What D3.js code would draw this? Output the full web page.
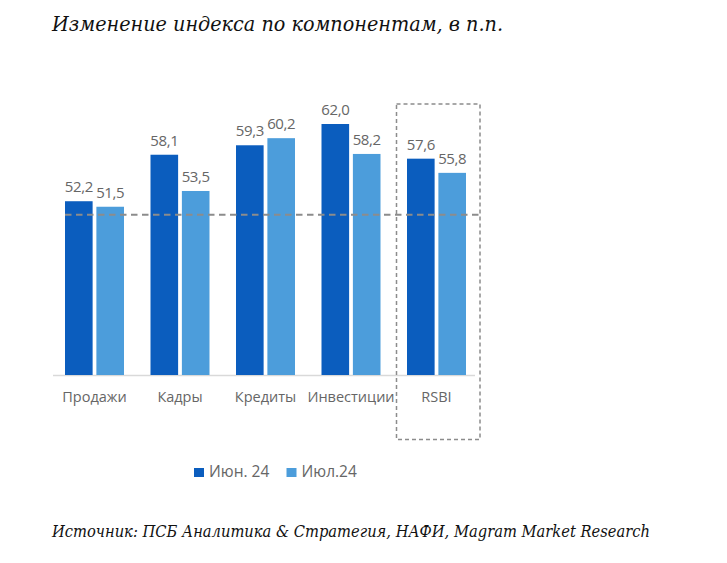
<!DOCTYPE html>
<html>
<head>
<meta charset="utf-8">
<script src="https://cdn.jsdelivr.net/npm/d3@7"></script>
<style>
  html, body { margin: 0; padding: 0; background: #fff; }
  svg { display: block; }
</style>
</head>
<body>
<svg id="chart" width="727" height="563"></svg>
<script>
const categories = ["Продажи", "Кадры", "Кредиты", "Инвестиции", "RSBI"];
const seriesNames = ["Июн. 24", "Июл.24"];
const june = [52.2, 58.1, 59.3, 62.0, 57.6];
const july = [51.5, 53.5, 60.2, 58.2, 55.8];
const threshold = 50.5;
const titleText = "Изменение индекса по компонентам, в п.п.";
const sourceText = "Источник: ПСБ Аналитика & Стратегия, НАФИ, Magram Market Research";

const colors = ["#0b5dbe", "#4c9ddb"];
const fmt = v => v.toFixed(1).replace(".", ",");

const svg = d3.select("#chart");

const x = d3.scaleBand().domain(categories).range([52, 479.5]).paddingInner(0).paddingOuter(0);
const x1 = d3.scaleBand().domain(seriesNames).range([0, 59]).paddingInner(0.12);
const y = d3.scaleLinear().domain([30.15, 62]).range([375, 124]);

const data = categories.map((c, i) => ({ cat: c, vals: [june[i], july[i]] }));

// title
svg.append("text").attr("x", 52).attr("y", 31)
  .attr("font-family", "'DejaVu Serif Condensed', 'DejaVu Serif'").attr("font-style", "italic")
  .attr("font-size", 21).attr("fill", "#111")
  .attr("textLength", 451).attr("lengthAdjust", "spacingAndGlyphs")
  .text(titleText);

// axis baseline
svg.append("line").attr("x1", 53).attr("x2", 475).attr("y1", y(30.15) + 0.5).attr("y2", y(30.15) + 0.5)
  .attr("stroke", "#d9d9d9").attr("stroke-width", 1.5);

const offset = 13;
const groups = svg.append("g").selectAll("g").data(data).join("g")
  .attr("transform", d => `translate(${x(d.cat) + offset},0)`);

groups.selectAll("rect").data(d => d.vals.map((v, j) => ({ v, s: seriesNames[j], j })))
  .join("rect")
  .attr("x", d => x1(d.s)).attr("width", x1.bandwidth())
  .attr("y", d => y(d.v)).attr("height", d => y(30.15) - y(d.v))
  .attr("fill", d => colors[d.j]);

groups.selectAll("text.val").data(d => d.vals.map((v, j) => ({ v, s: seriesNames[j], j })))
  .join("text").attr("class", "val")
  .attr("x", d => x1(d.s) + x1.bandwidth() / 2).attr("y", d => y(d.v) - 9)
  .attr("text-anchor", "middle")
  .attr("font-family", "Open Sans").attr("font-size", 15).attr("letter-spacing", -0.4).attr("fill", "#666")
  .text(d => fmt(d.v));

// dashed reference line
svg.append("line").attr("x1", 65).attr("x2", 480).attr("y1", y(threshold)).attr("y2", y(threshold))
  .attr("stroke", "#8c8c8c").attr("stroke-width", 2).attr("stroke-dasharray", "6.5,4.5");

// category labels
svg.append("g").selectAll("text").data(categories).join("text")
  .attr("x", d => x(d) + offset + 29.5).attr("y", 401.5)
  .attr("text-anchor", "middle")
  .attr("font-family", "Open Sans").attr("font-size", 14.5).attr("fill", "#666")
  .text(d => d);

// dashed box around RSBI
svg.append("rect").attr("x", 396.5).attr("y", 104).attr("width", 83.5).attr("height", 335.5)
  .attr("fill", "none").attr("stroke", "#8c8c8c").attr("stroke-width", 1.5).attr("stroke-dasharray", "4,3");

// legend
const leg = svg.append("g");
const legX = [194, 286.5];
seriesNames.forEach((s, i) => {
  leg.append("rect").attr("x", legX[i]).attr("y", 468).attr("width", 10).attr("height", 9).attr("fill", colors[i]);
  leg.append("text").attr("x", legX[i] + 15).attr("y", 477)
    .attr("font-family", "Open Sans").attr("font-size", 15.5).attr("fill", "#666").text(s);
});

// source
svg.append("text").attr("x", 52).attr("y", 537)
  .attr("font-family", "'DejaVu Serif Condensed', 'DejaVu Serif'").attr("font-style", "italic")
  .attr("font-size", 16).attr("fill", "#111")
  .attr("textLength", 598).attr("lengthAdjust", "spacingAndGlyphs")
  .text(sourceText);
</script>
</body>
</html>
